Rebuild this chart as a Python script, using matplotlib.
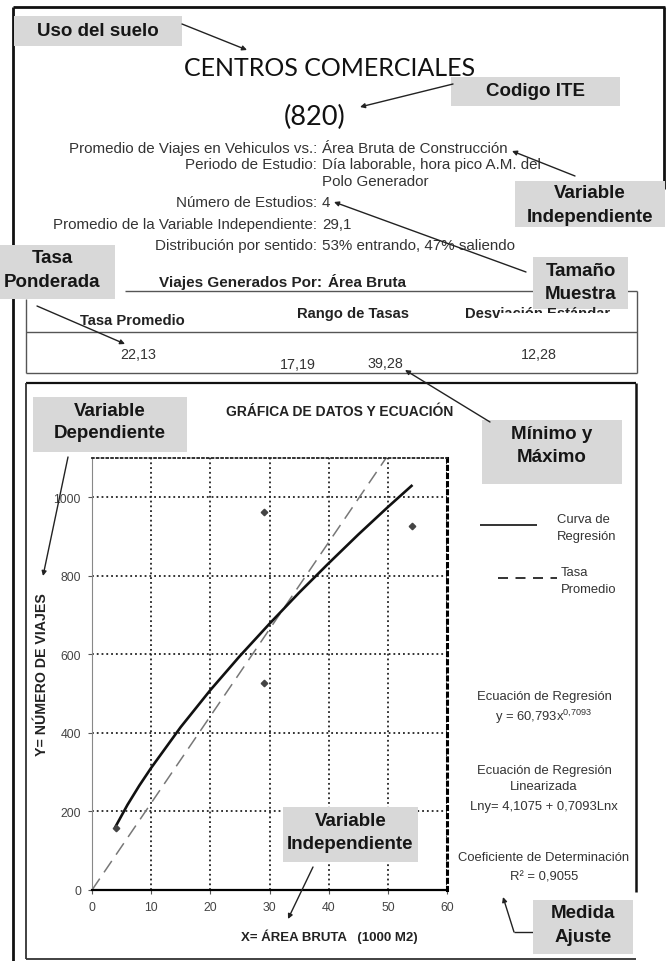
import matplotlib.pyplot as plt
from matplotlib.patches import Rectangle

W, H = 666, 962

# values
area_x = [4, 29, 29, 54]
viajes_y = [158, 527, 962, 926]
curva_x = [4, 6, 8, 10, 15, 20, 25, 30, 35, 40, 45, 50, 54]
curva_y = [162, 217, 266, 311, 415, 509, 596, 678, 757, 832, 905, 975, 1029]
tasa_x = [0, 49.7]
tasa_y = [0, 1100]
x_ticks = [0, 10, 20, 30, 40, 50, 60]
y_ticks = [0, 200, 400, 600, 800, 1000]

info_labels = ['Promedio de Viajes en Vehiculos vs.:', 'Periodo de Estudio:', '',
               'Número de Estudios:', 'Promedio de la Variable Independiente:',
               'Distribución por sentido:']
info_values = ['Área Bruta de Construcción', 'Día laborable, hora pico A.M. del',
               'Polo Generador', '4', '29,1', '53% entrando, 47% saliendo']
info_rows = [149, 165, 182, 203, 225, 246]

tabla_headers = ['Tasa Promedio', 'Rango de Tasas', 'Desviación Estándar']
tasa_promedio = '22,13'
rango_tasas = ['17,19', '39,28']
desviacion = '12,28'

SANS = 'Liberation Sans'
plt.rcParams['mathtext.fontset'] = 'custom'
plt.rcParams['mathtext.rm'] = SANS
plt.rcParams['mathtext.it'] = SANS

fig = plt.figure(figsize=(W / 100, H / 100), dpi=100)

# --- chart axes (pixel box: x 92..447, y 459..891) ---
ax = fig.add_axes([92 / W, 1 - 891 / H, (447 - 92) / W, (891 - 459) / H])
ax.plot(tasa_x, tasa_y, color='#777777', lw=1.1, dashes=(9, 5))
ax.plot(curva_x, curva_y, color='#111111', lw=1.9)
ax.plot(area_x, viajes_y, ls='none', marker='D', ms=3.3, color='#444444')
ax.set_xlim(0, 60)
ax.set_ylim(0, 1100)
ax.set_xticks(x_ticks)
ax.set_yticks(y_ticks)
ax.grid(True, ls=':', color='#222222', lw=1.3)
ax.spines['left'].set_color('#888888')
ax.spines['top'].set_linestyle(':')
ax.spines['top'].set_color('#222222')
ax.spines['top'].set_linewidth(1.3)
ax.spines['right'].set_linestyle(':')
ax.spines['right'].set_linewidth(2.2)
ax.spines['bottom'].set_linestyle((0, (2, 1)))
ax.spines['bottom'].set_linewidth(1.6)
ax.tick_params(length=3, width=0.8, color='#555555', labelcolor='#444444', labelsize=8.8, pad=5)
for lab in ax.get_xticklabels() + ax.get_yticklabels():
    lab.set_family(SANS)

# --- overlay in pixel coordinates ---
ov = fig.add_axes([0, 0, 1, 1])
ov.set_xlim(0, W)
ov.set_ylim(H, 0)
ov.axis('off')


def line(xs, ys, **kw):
    kw.setdefault('color', '#555555')
    kw.setdefault('lw', 1)
    ov.plot(xs, ys, solid_capstyle='butt', zorder=1, **kw)


def txt(x, y, s, size=9.4, weight='normal', ha='center', color='#333333', family=SANS, z=4):
    ov.text(x, y, s, ha=ha, va='center', fontsize=size, fontweight=weight,
            color=color, family=family, zorder=z)


def box(x0, y0, x1, y1, lines, ys, cx=None):
    ov.add_patch(Rectangle((x0, y0), x1 - x0, y1 - y0, facecolor='#d8d8d8',
                           edgecolor='none', zorder=3))
    if cx is None:
        cx = (x0 + x1) / 2
    for s, y in zip(lines, ys):
        txt(cx, y, s, size=13.5, weight='bold', color='#161616')


def arrow(x0, y0, x1, y1):
    ov.annotate('', xy=(x1, y1), xytext=(x0, y0), zorder=5,
                arrowprops=dict(arrowstyle='-|>', color='#222222', lw=1,
                                mutation_scale=7, shrinkA=0, shrinkB=0))


# outer frame
line([13, 665], [8, 8], color='#111111', lw=2)
line([13, 13], [8, 962], color='#111111', lw=2)
line([664, 664], [8, 190], color='#111111', lw=2)

# headings
txt(330, 69, 'CENTROS COMERCIALES', size=18, family='Lato', color='#111111')
txt(315, 117, '(820)', size=19.5, family='Lato', color='#111111')

# info block
for lab, val, y in zip(info_labels, info_values, info_rows):
    if lab:
        txt(317, y, lab, size=10.9, ha='right')
    txt(322, y, val, size=10.9, ha='left')

# generated by row and table
txt(322, 283, 'Viajes Generados Por:', size=11, weight='bold', ha='right', color='#222222')
txt(328, 283, 'Área Bruta', size=11, weight='bold', ha='left', color='#222222')
line([125, 637], [292, 292])
line([26, 26], [300, 374])
line([637, 637], [292, 374])
line([26, 637], [333, 333])
line([26, 637], [374, 374])
txt(132, 321, tabla_headers[0], size=10.6, weight='bold', color='#222222')
txt(353, 314, tabla_headers[1], size=10.6, weight='bold', color='#222222')
txt(538, 314, tabla_headers[2], size=10.6, weight='bold', color='#222222')
ov.add_patch(Rectangle((501, 313.5), 112, 10, facecolor='white', edgecolor='none', zorder=4.5))
txt(138, 355, tasa_promedio, size=10.3)
txt(298, 365, rango_tasas[0], size=10.3)
txt(385, 364, rango_tasas[1], size=10.3)
txt(539, 355, desviacion, size=10.3)

# chart frame
line([26, 636], [384, 384], color='#111111', lw=1.6)
line([26, 26], [384, 960], color='#333333', lw=1.3)
line([26, 636], [960, 960], color='#333333', lw=1.3)
line([636, 636], [384, 893], color='#111111', lw=1.8)
txt(340, 412, 'GRÁFICA DE DATOS Y ECUACIÓN', size=10, weight='bold', color='#222222')
ov.text(42, 675, 'Y= NÚMERO DE VIAJES', rotation=90, ha='center', va='center',
        fontsize=10.2, fontweight='bold', color='#222222', family=SANS)
txt(329, 937, 'X= ÁREA BRUTA   (1000 M2)', size=9.5, weight='bold', color='#222222')

# legend and equations
line([480, 537], [526, 526], color='#111111', lw=1.2)
line([498, 557], [579, 579], color='#111111', lw=1.2, dashes=(6, 4.5))
txt(557, 520, 'Curva de', ha='left')
txt(557, 537, 'Regresión', ha='left')
txt(561, 573, 'Tasa', ha='left')
txt(561, 590, 'Promedio', ha='left')
txt(544, 697, 'Ecuación de Regresión')
txt(544, 717, r'y = 60,793x$^{0{,}7093}$')
txt(544, 771, 'Ecuación de Regresión')
txt(544, 787, 'Linearizada')
txt(544, 807, 'Lny= 4,1075 + 0,7093Lnx')
txt(544, 858, 'Coeficiente de Determinación')
txt(544, 878, 'R² = 0,9055')

# annotation call-outs
box(14, 17, 182, 47, ['Uso del suelo'], [32])
arrow(182, 25, 247, 51)
box(451, 78, 620, 107, ['Codigo ITE'], [92])
arrow(453, 85, 360, 108)
box(515, 182, 665, 228, ['Variable', 'Independiente'], [194, 217])
arrow(575, 177, 512, 152)
box(0, 246, 115, 300, ['Tasa', 'Ponderada'], [259, 283], cx=52)
arrow(37, 307, 125, 345)
box(533, 258, 628, 310, ['Tamaño', 'Muestra'], [272, 295])
arrow(526, 273, 334, 203)
box(33, 398, 187, 453, ['Variable', 'Dependiente'], [412, 434])
arrow(68, 458, 43, 577)
box(482, 421, 622, 485, ['Mínimo y', 'Máximo'], [435, 458])
arrow(490, 423, 405, 371)
box(283, 808, 418, 863, ['Variable', 'Independiente'], [822, 845])
arrow(313, 868, 288, 920)
box(533, 901, 633, 955, ['Medida', 'Ajuste'], [914, 938])
line([533, 514], [933, 933], color='#222222')
arrow(514, 933, 503, 898)

fig.savefig('out.png', dpi=100)
